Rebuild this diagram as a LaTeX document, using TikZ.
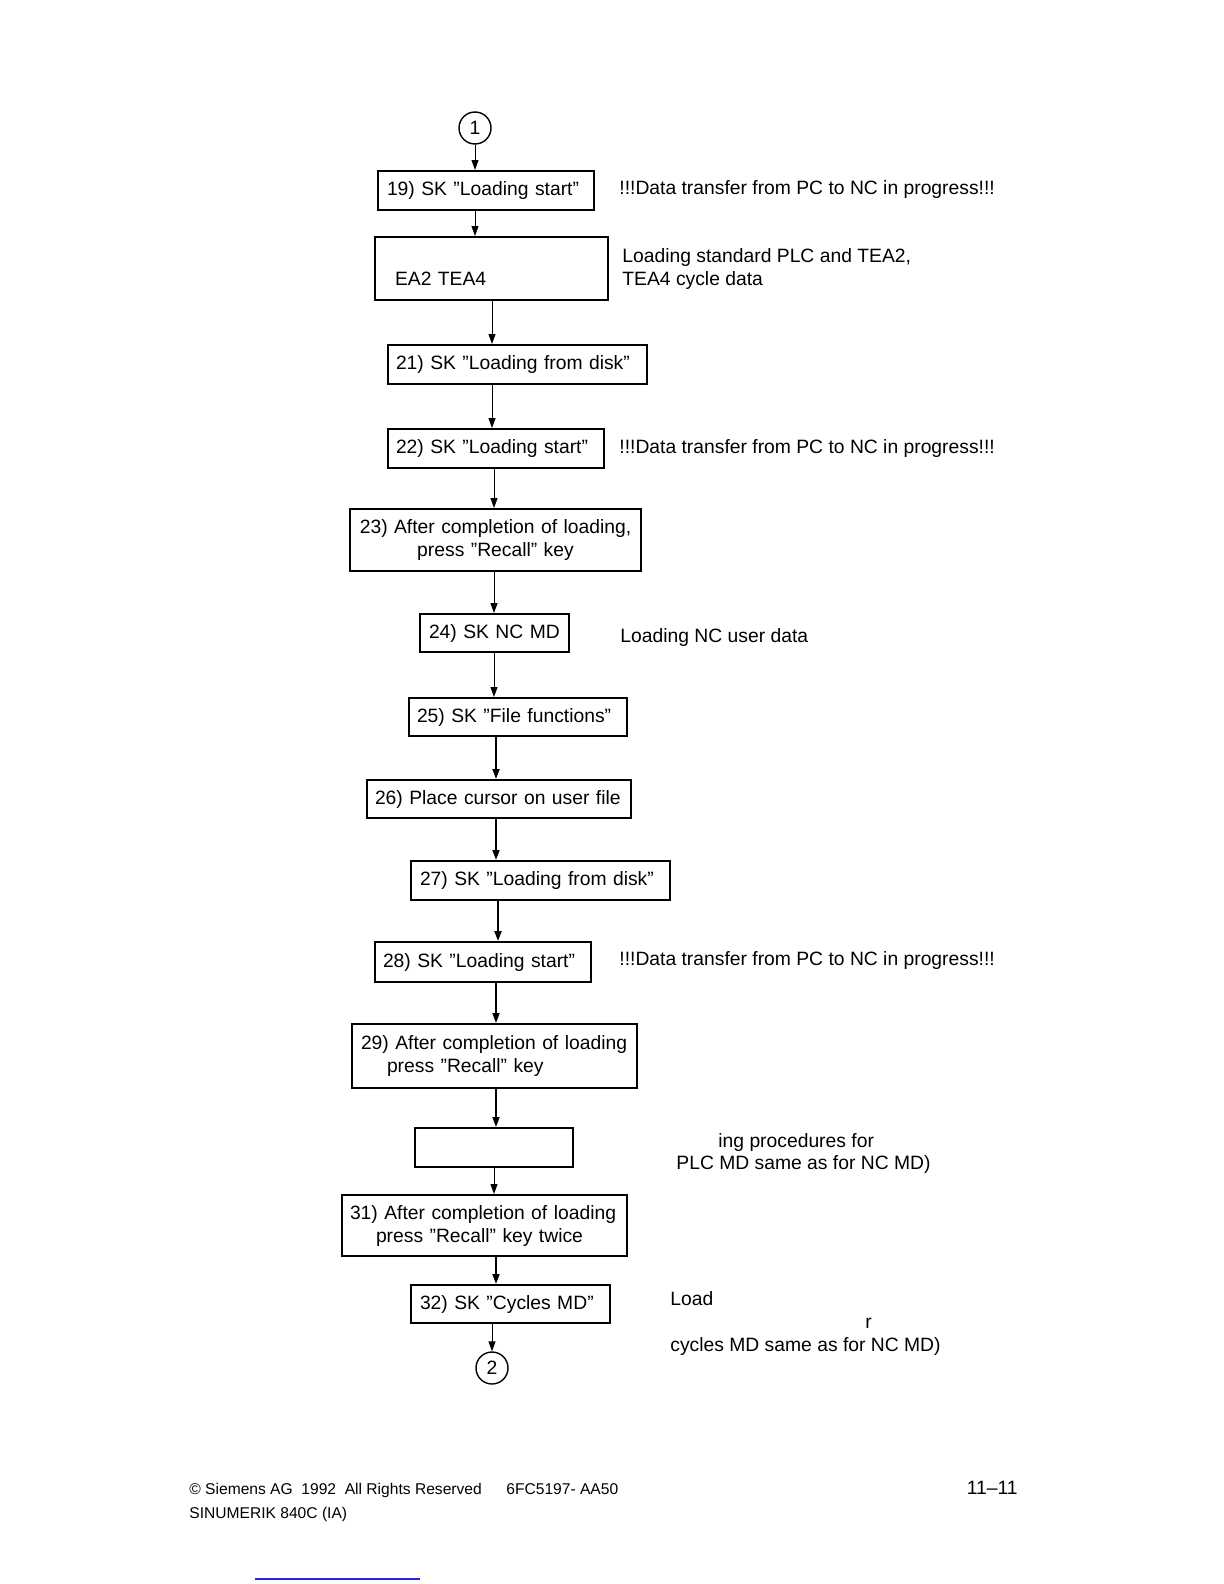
\documentclass[tikz,border=0pt]{standalone}
\usepackage{fontspec}
\setmainfont{Liberation Sans}
\usetikzlibrary{arrows.meta}
\definecolor{linkblue}{RGB}{40,40,215}
\newcommand\flowbox[8][]{%
  \pgfmathsetmacro\bxw{(#5-#3-2*#7)*0.5}%
  \pgfmathsetmacro\bxh{(#6-#4)*0.5}%
  \pgfmathsetmacro\bxs{#7*0.5}%
  \node[boxst,#1,anchor=north west,text width=\bxw pt,inner xsep=\bxs pt,minimum height=\bxh pt] (#2) at (#3,#4) {#8};}
\begin{document}
\begin{tikzpicture}[x=0.5pt,y=-0.5pt,
  every node/.style={font=\fontsize{9.65pt}{11.5pt}\selectfont},
  boxst/.style={draw,line width=1pt,rectangle,align=left,inner ysep=0pt},
  conn/.style={circle,draw,line width=0.7pt,minimum size=16pt,inner sep=0pt},
  note/.style={anchor=base west,inner sep=0pt},
  foot/.style={anchor=base west,inner sep=0pt,font=\fontsize{7.8pt}{9.5pt}\selectfont},
  thin arr/.style={line width=0.5pt,-{Triangle[length=5pt,width=3.5pt]}},
  thick arr/.style={line width=1pt,-{Triangle[length=5pt,width=3.5pt]}}]
\useasboundingbox (0,0) rectangle (1224,1584);

% column x positions for connectors
\coordinate (k475) at (475,0);
\coordinate (k492) at (492,0);
\coordinate (k494) at (494,0);
\coordinate (k496) at (496,0);
\coordinate (k498) at (498,0);

% connector circles
\node[conn] (c1) at (475,128) {1};
\node[conn] (c2) at (492,1368) {2};

% boxes: name, x1, y1, x2, y2, left pad, text
\flowbox{b19}{377}{170}{593}{209}{9}{\mbox{19) SK ”Loading start”}}
\flowbox{b20}{374}{236}{607}{299}{20}{\mbox{}\\[5pt]\mbox{EA2 TEA4}}
\flowbox{b21}{387}{344}{646}{383}{8}{\mbox{21) SK ”Loading from disk”}}
\flowbox{b22}{387}{428}{603}{467}{8}{\mbox{22) SK ”Loading start”}}
\flowbox[align=center]{b23}{349}{508}{640}{570}{8}{\mbox{23) After completion of loading,}\\\mbox{press ”Recall” key}}
\flowbox{b24}{419}{613}{568}{651}{9}{\mbox{24) SK NC MD}}
\flowbox{b25}{408}{697}{626}{735}{8}{\mbox{25) SK ”File functions”}}
\flowbox{b26}{366}{779}{630}{817}{8}{\mbox{26) Place cursor on user file}}
\flowbox{b27}{410}{860}{669}{899}{9}{\mbox{27) SK ”Loading from disk”}}
\flowbox{b28}{374}{941}{590}{981}{8}{\mbox{28) SK ”Loading start”}}
\flowbox{b29}{351}{1023}{636}{1087}{9}{\mbox{29) After completion of loading}\\\mbox{\hspace*{13pt}press ”Recall” key}}
\flowbox{b30}{414}{1127}{572}{1166}{8}{}
\flowbox{b31}{341}{1194}{626}{1255}{8}{\mbox{31) After completion of loading}\\\mbox{\hspace*{13pt}press ”Recall” key twice}}
\flowbox{b32}{410}{1284}{609}{1322}{9}{\mbox{32) SK ”Cycles MD”}}

% connectors
\draw[thin arr] (c1.south -| k475) -- (b19.north -| k475);
\draw[thin arr] (b19.south -| k475) -- (b20.north -| k475);
\draw[thin arr] (b20.south -| k492) -- (b21.north -| k492);
\draw[thin arr] (b21.south -| k492) -- (b22.north -| k492);
\draw[thin arr] (b22.south -| k494) -- (b23.north -| k494);
\draw[thin arr] (b23.south -| k494) -- (b24.north -| k494);
\draw[thin arr] (b24.south -| k494) -- (b25.north -| k494);
\draw[thick arr] (b25.south -| k496) -- (b26.north -| k496);
\draw[thick arr] (b26.south -| k496) -- (b27.north -| k496);
\draw[thick arr] (b27.south -| k498) -- (b28.north -| k498);
\draw[thick arr] (b28.south -| k496) -- (b29.north -| k496);
\draw[thick arr] (b29.south -| k496) -- (b30.north -| k496);
\draw[thin arr] (b30.south -| k494) -- (b31.north -| k494);
\draw[thick arr] (b31.south -| k496) -- (b32.north -| k496);
\draw[thin arr] (b32.south -| k492) -- (c2.north -| k492);

% side notes
\node[note] (n19) at (619,194) {!!!Data transfer from PC to NC in progress!!!};
\node[note] (n20a) at (622,262) {Loading standard PLC and TEA2,};
\node[note] (n20b) at (622,285) {TEA4 cycle data};
\node[note] (n22) at (619,453) {!!!Data transfer from PC to NC in progress!!!};
\node[note] (n24) at (620,642) {Loading NC user data};
\node[note] (n28) at (619,965) {!!!Data transfer from PC to NC in progress!!!};
\node[note] (n30a) at (718,1147) {ing procedures for};
\node[note] (n30b) at (676,1169) {PLC MD same as for NC MD)};
\node[note] (n32a) at (670,1305) {Load};
\node[note] (n32b) at (865,1328) {r};
\node[note] (n32c) at (670,1351) {cycles MD same as for NC MD)};

% footer
\node[foot] (f1) at (189,1494) {© Siemens AG\ \ 1992\ \ All Rights Reserved};
\node[foot] (f2) at (506,1494) {6FC5197- AA50};
\node[anchor=base east,inner sep=0pt] (f3) at (1018,1494) {11–11};
\node[foot] (f4) at (189,1518) {SINUMERIK 840C (IA)};
\coordinate (l1) at (255,1579);
\coordinate (l2) at (420,1579);
\draw[linkblue,line width=0.6pt] (l1) -- (l2);
\end{tikzpicture}
\end{document}
